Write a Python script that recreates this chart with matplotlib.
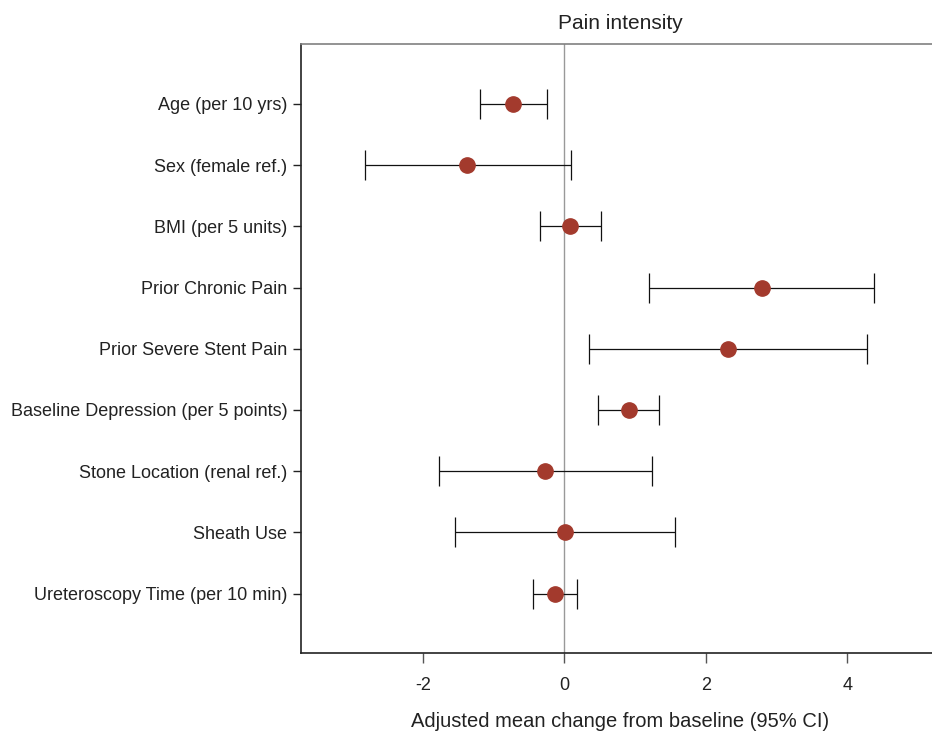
import matplotlib
matplotlib.use("Agg")
import matplotlib.pyplot as plt

labels = ["Age (per 10 yrs)", "Sex (female ref.)", "BMI (per 5 units)",
          "Prior Chronic Pain", "Prior Severe Stent Pain",
          "Baseline Depression (per 5 points)", "Stone Location (renal ref.)",
          "Sheath Use", "Ureteroscopy Time (per 10 min)"]
estimate = [-0.72, -1.37, 0.08, 2.79, 2.31, 0.92, -0.27, 0.01, -0.13]
ci_low = [-1.19, -2.81, -0.34, 1.19, 0.35, 0.48, -1.77, -1.54, -0.44]
ci_high = [-0.24, 0.10, 0.52, 4.38, 4.27, 1.34, 1.24, 1.56, 0.18]
xticks = [-2, 0, 2, 4]

plt.rcParams['font.family'] = ['Liberation Sans', 'DejaVu Sans']

fig = plt.figure(figsize=(9.32, 7.32), dpi=100)
ax = fig.add_axes([0.323, 0.108, 0.685, 0.832])

n = len(labels)
ypos = list(range(n, 0, -1))
xerr = [[e - l for e, l in zip(estimate, ci_low)], [h - e for e, h in zip(estimate, ci_high)]]

ax.axvline(0, color='#999999', lw=1.0, zorder=1)
ax.errorbar(estimate, ypos, xerr=xerr, fmt='none', ecolor='#111111', elinewidth=0.9,
            capsize=10.8, capthick=0.9, zorder=2)
ax.plot(estimate, ypos, 'o', color='#A33A2D', markersize=11, zorder=3, mec='#A33A2D')

ax.set_xlim(-3.72, 5.3)
ax.set_ylim(0.03, 9.98)
ax.set_yticks(ypos)
ax.set_yticklabels(labels, fontsize=13, color='#222222')
ax.set_xticks(xticks)
ax.set_xticklabels([str(t) for t in xticks], fontsize=13, color='#222222')
ax.tick_params(axis='x', length=7, width=1, color='#555555', pad=10)
ax.tick_params(axis='y', length=6, width=1, color='#222222', pad=4)
ax.set_xlabel("Adjusted mean change from baseline (95% CI)", fontsize=14.5, color='#222222', labelpad=13)
ax.set_title("Pain intensity", fontsize=15, color='#222222', pad=11)

for s in ['left', 'bottom']:
    ax.spines[s].set_color('#222222')
    ax.spines[s].set_linewidth(1.2)
ax.spines['top'].set_color('#808080')
ax.spines['top'].set_linewidth(1.2)
ax.spines['right'].set_visible(False)

fig.savefig("out.png", dpi=100)
